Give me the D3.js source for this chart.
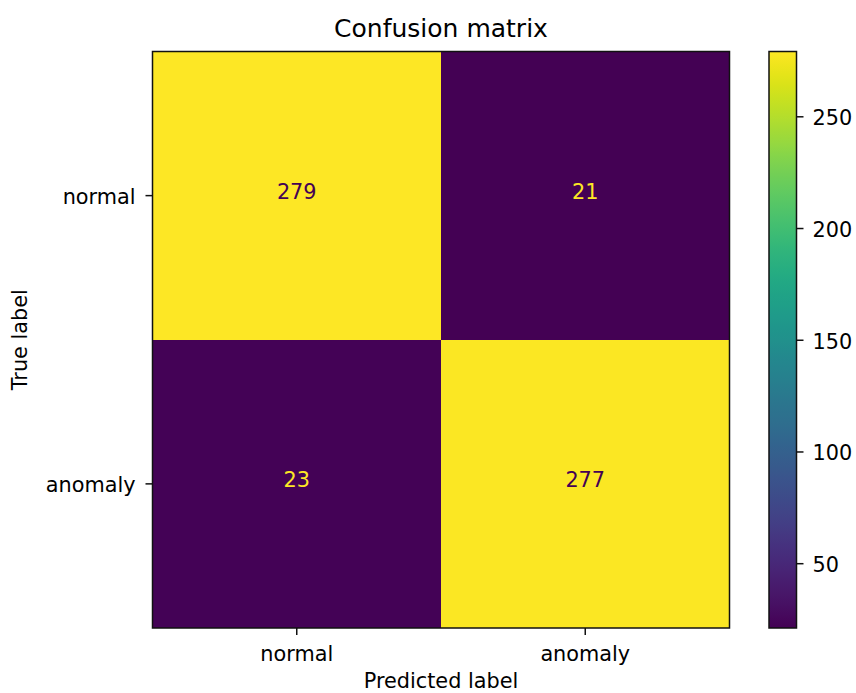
<!DOCTYPE html>
<html>
<head>
<meta charset="utf-8">
<script src="https://cdn.jsdelivr.net/npm/d3@7"></script>
<style>
  html, body { margin: 0; padding: 0; background: #fff; }
  text { font-family: "DejaVu Sans", sans-serif; fill: #000; }
</style>
</head>
<body>
<svg id="chart" width="856" height="693"></svg>
<script>
// ---- data ----
const trueLabels = ["normal", "anomaly"];
const predLabels = ["normal", "anomaly"];
const row_normal = [279, 21];
const row_anomaly = [23, 277];
const colorbarTicks = [50, 100, 150, 200, 250];
const title = "Confusion matrix";
const xTitle = "Predicted label";
const yTitle = "True label";

const matrix = [row_normal, row_anomaly];
const cells = [];
matrix.forEach((row, i) => row.forEach((v, j) => cells.push({ t: trueLabels[i], p: predLabels[j], v })));

const vmin = d3.min(cells, d => d.v), vmax = d3.max(cells, d => d.v);

const svg = d3.select("#chart");
const plot = { left: 152.5, right: 729.5, top: 51.5, bottom: 628 };
const cbar = { left: 769, right: 796.5 };
const fs = 20.8;

const x = d3.scaleBand().domain(predLabels).range([plot.left, plot.right]);
const y = d3.scaleBand().domain(trueLabels).range([plot.top, plot.bottom]);
const color = d3.scaleSequential(d3.interpolateViridis).domain([vmin, vmax]);

// cells
svg.append("g").selectAll("rect").data(cells).join("rect")
  .attr("x", d => x(d.p)).attr("y", d => y(d.t))
  .attr("width", x.bandwidth()).attr("height", y.bandwidth())
  .attr("fill", d => color(d.v))
  .attr("shape-rendering", "crispEdges");

// cell text
const mid = (vmin + vmax) / 2;
svg.append("g").selectAll("text").data(cells).join("text")
  .attr("x", d => x(d.p) + x.bandwidth() / 2)
  .attr("y", d => y(d.t) + y.bandwidth() / 2 + 3)
  .attr("text-anchor", "middle")
  .style("font-size", fs + "px")
  .style("fill", d => d.v < mid ? d3.interpolateViridis(1) : d3.interpolateViridis(0))
  .text(d => d.v);

// frame
svg.append("rect")
  .attr("x", plot.left).attr("y", plot.top)
  .attr("width", plot.right - plot.left).attr("height", plot.bottom - plot.top)
  .attr("fill", "none").attr("stroke", "#111").attr("stroke-width", 1.5);

// x axis
const xAxis = svg.append("g").attr("transform", `translate(0,${plot.bottom})`)
  .call(d3.axisBottom(x).tickSize(7).tickPadding(8));
xAxis.select(".domain").remove();
xAxis.selectAll(".tick line").attr("stroke", "#111").attr("stroke-width", 1.5);
xAxis.selectAll(".tick text").style("font-size", fs + "px").attr("dy", null).attr("y", 33).style("font-family", "DejaVu Sans");

// y axis
const yAxis = svg.append("g").attr("transform", `translate(${plot.left},0)`)
  .call(d3.axisLeft(y).tickSize(7).tickPadding(8));
yAxis.select(".domain").remove();
yAxis.selectAll(".tick line").attr("stroke", "#111").attr("stroke-width", 1.5);
yAxis.selectAll(".tick text").style("font-size", fs + "px").attr("dy", null).attr("y", 8.5).attr("x", -17).style("font-family", "DejaVu Sans");

// title & axis labels
svg.append("text").attr("x", (plot.left + plot.right) / 2).attr("y", 37)
  .attr("text-anchor", "middle").style("font-size", "25px").text(title);
svg.append("text").attr("x", (plot.left + plot.right) / 2).attr("y", 688)
  .attr("text-anchor", "middle").style("font-size", fs + "px").text(xTitle);
svg.append("text").attr("transform", `translate(27,${(plot.top + plot.bottom) / 2}) rotate(-90)`)
  .attr("text-anchor", "middle").style("font-size", fs + "px").text(yTitle);

// colorbar
const cy = d3.scaleLinear().domain([vmin, vmax]).range([plot.bottom, plot.top]);
const defs = svg.append("defs");
const grad = defs.append("linearGradient").attr("id", "cbgrad")
  .attr("x1", 0).attr("y1", 1).attr("x2", 0).attr("y2", 0);
grad.selectAll("stop").data(d3.range(0, 1.0001, 0.02)).join("stop")
  .attr("offset", d => d).attr("stop-color", d => d3.interpolateViridis(d));
svg.append("rect")
  .attr("x", cbar.left).attr("y", plot.top)
  .attr("width", cbar.right - cbar.left).attr("height", plot.bottom - plot.top)
  .attr("fill", "url(#cbgrad)")
  .attr("stroke", "#111").attr("stroke-width", 1.5);
const cAxis = svg.append("g").attr("transform", `translate(${cbar.right},0)`)
  .call(d3.axisRight(cy).tickValues(colorbarTicks).tickSize(7).tickPadding(9));
cAxis.select(".domain").remove();
cAxis.selectAll(".tick line").attr("stroke", "#111").attr("stroke-width", 1.5);
cAxis.selectAll(".tick text").style("font-size", fs + "px").attr("dy", null).attr("y", 8.5).style("font-family", "DejaVu Sans");
</script>
</body>
</html>
